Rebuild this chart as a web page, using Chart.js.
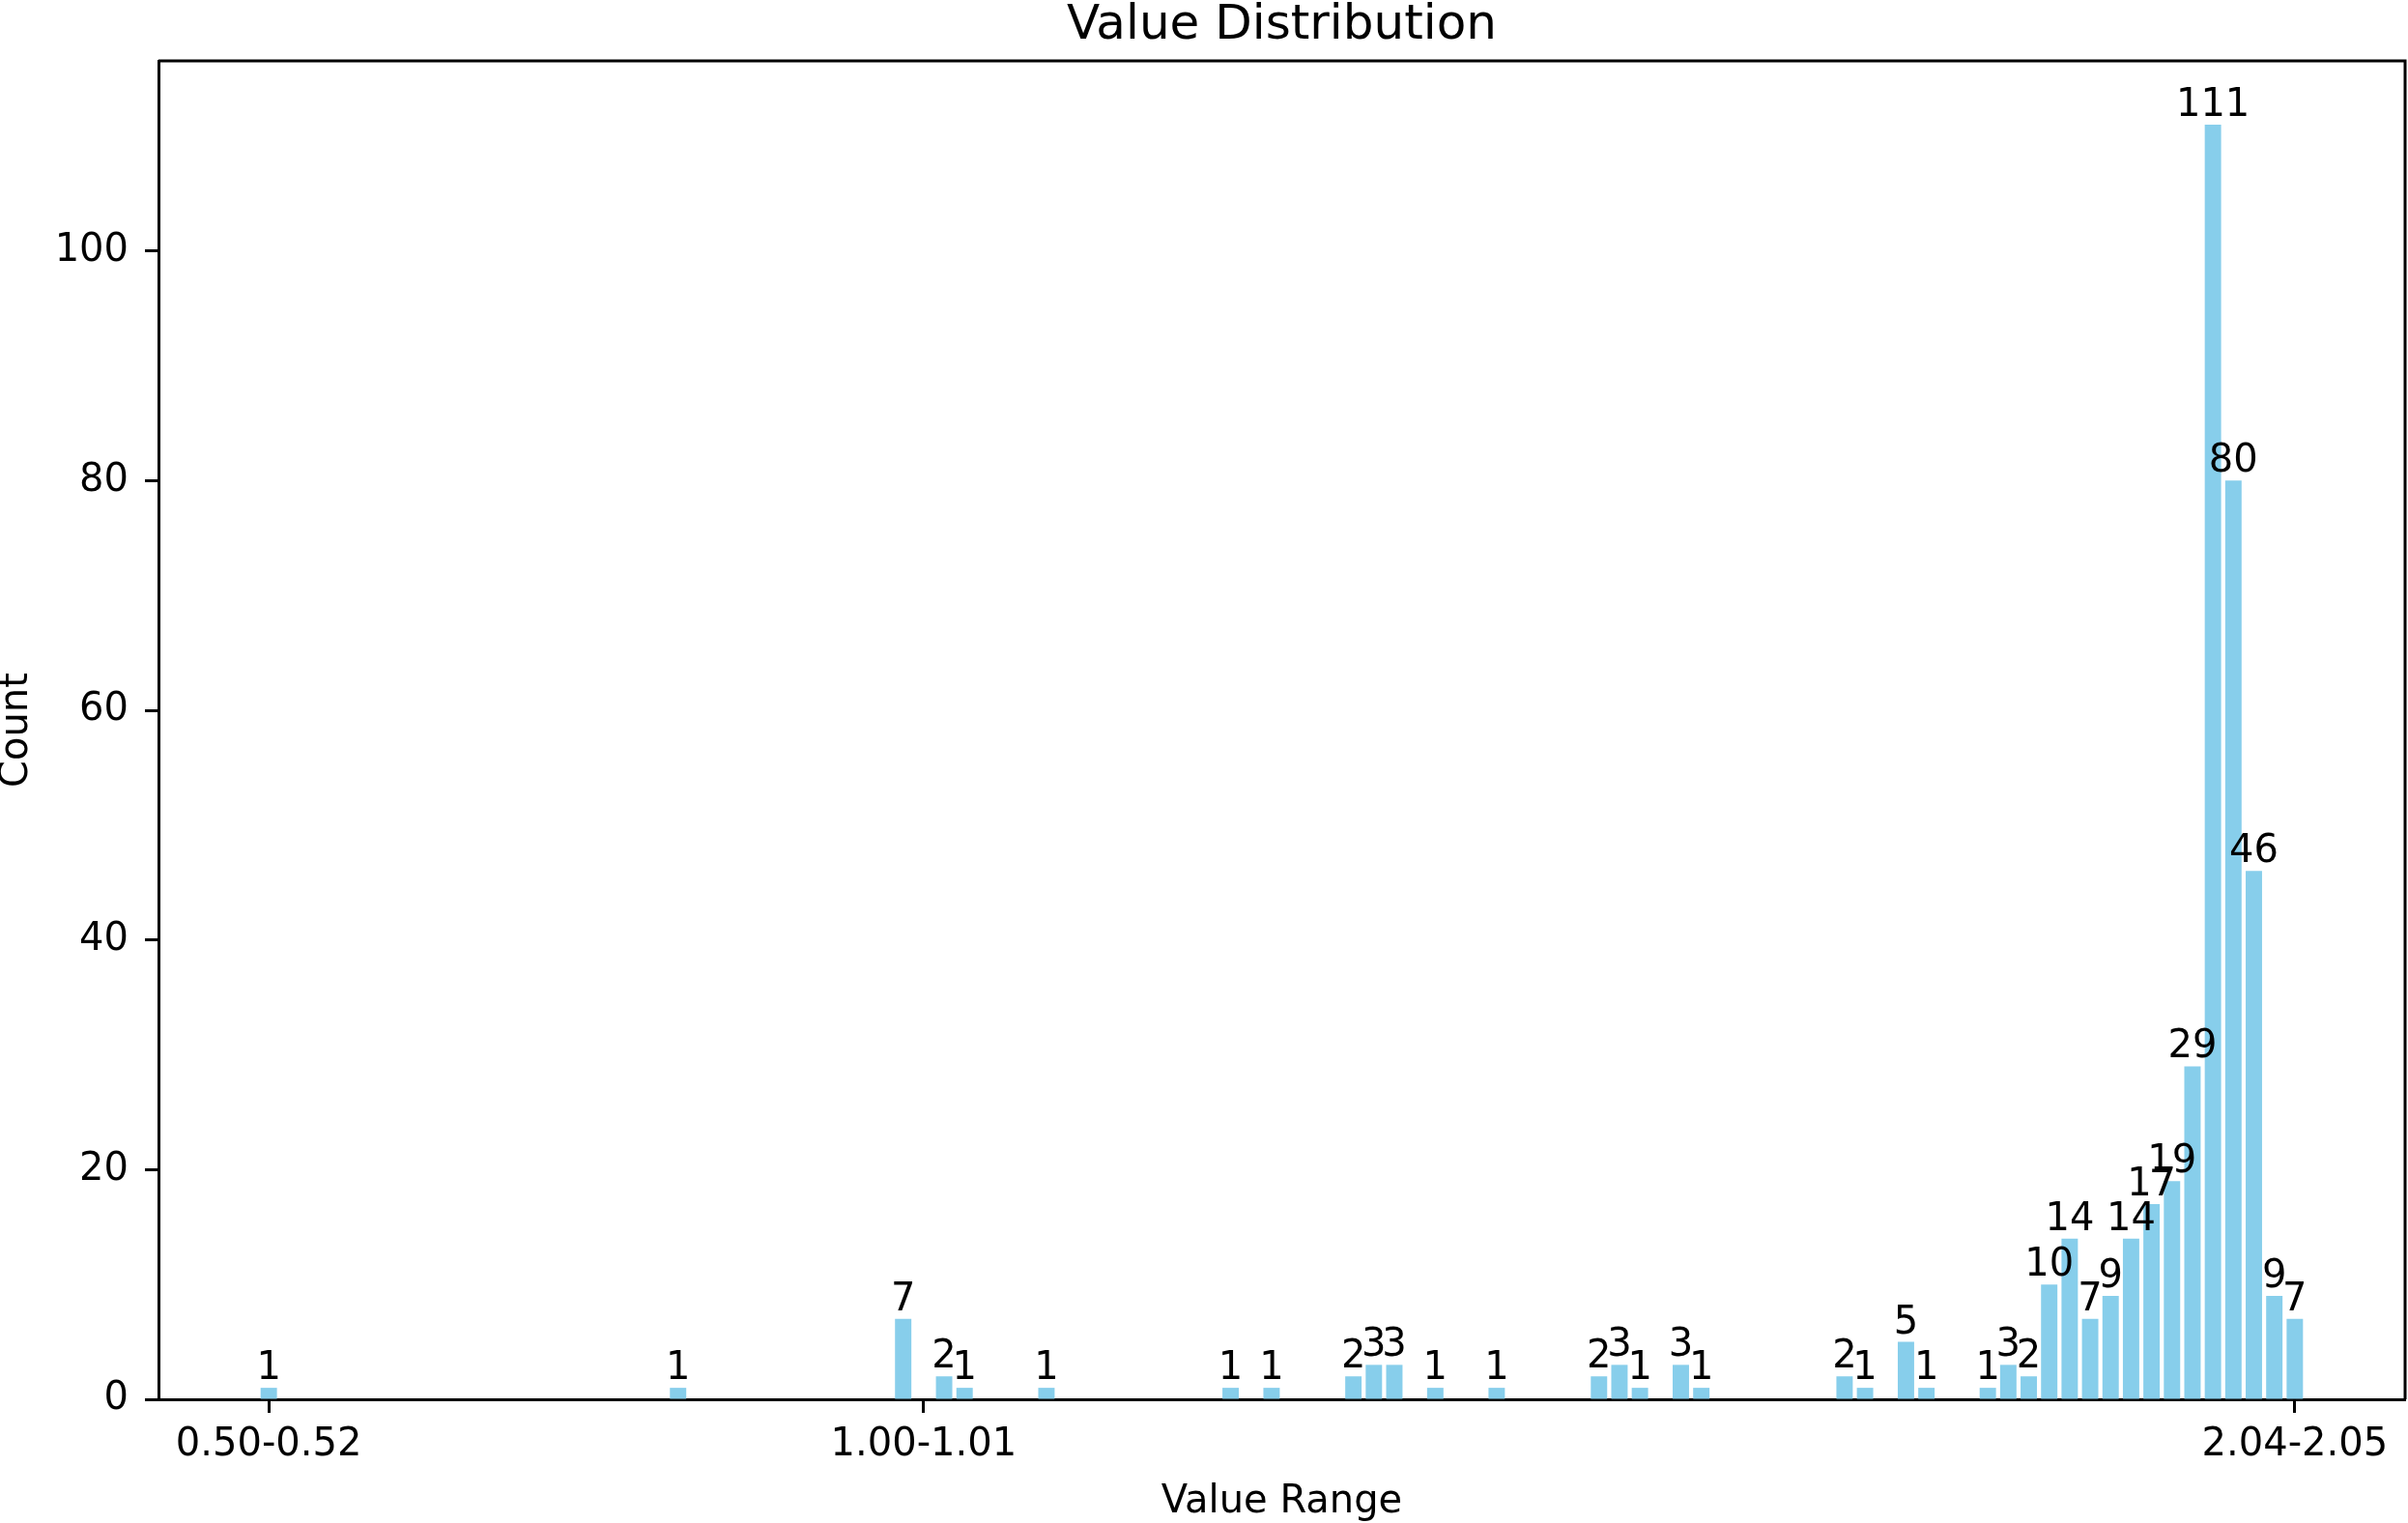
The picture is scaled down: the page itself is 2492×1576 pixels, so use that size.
<!DOCTYPE html>
<html>
<head>
<meta charset="utf-8">
<script src="https://cdn.jsdelivr.net/npm/chart.js@4/dist/chart.umd.min.js"></script>
<style>
  body { margin: 0; background: #fff; }
  #wrap { width: 2492px; height: 1576px; }
</style>
</head>
<body>
<div id="wrap"><canvas id="chart" width="2492" height="1576"></canvas></div>
<script>
// 100 bins from 0.50 to 2.05, counts per bin (index = bin number)
const binCounts = [
  1, 0, 0, 0, 0, 0, 0, 0, 0, 0,
  0, 0, 0, 0, 0, 0, 0, 0, 0, 0,
  1, 0, 0, 0, 0, 0, 0, 0, 0, 0,
  0, 7, 0, 2, 1, 0, 0, 0, 1, 0,
  0, 0, 0, 0, 0, 0, 0, 1, 0, 1,
  0, 0, 0, 2, 3, 3, 0, 1, 0, 0,
  1, 0, 0, 0, 0, 2, 3, 1, 0, 3,
  1, 0, 0, 0, 0, 0, 0, 2, 1, 0,
  5, 1, 0, 0, 1, 3, 2, 10, 14, 7,
  9, 14, 17, 19, 29, 111, 80, 46, 9, 7
];
const tickIndex = [0, 32, 99];
const tickLabels = ["0.50-0.52", "1.00-1.01", "2.04-2.05"];
const yTicks = [0, 20, 40, 60, 80, 100];
const chartTitle = "Value Distribution";

const FONT = "'DejaVu Sans', sans-serif";
const barColor = "#87CEEB";

const points = binCounts
  .map((c, i) => ({ x: i, y: c }))
  .filter(p => p.y > 0);

const barLabels = {
  id: "barLabels",
  afterDatasetsDraw(chart) {
    const ctx = chart.ctx;
    const meta = chart.getDatasetMeta(0);
    ctx.save();
    ctx.font = "40px " + FONT;
    ctx.fillStyle = "#000";
    ctx.textAlign = "center";
    ctx.textBaseline = "alphabetic";
    meta.data.forEach((el, i) => {
      ctx.fillText(String(points[i].y), el.x, el.y - 9);
    });
    ctx.restore();
  }
};

// top/right spines and a title centred over the axes
const frame = {
  id: "frame",
  afterDraw(chart) {
    const a = chart.chartArea;
    const ctx = chart.ctx;
    ctx.save();
    ctx.strokeStyle = "#000";
    ctx.lineWidth = 3;
    ctx.beginPath();
    ctx.moveTo(a.left, a.top);
    ctx.lineTo(a.right, a.top);
    ctx.lineTo(a.right, a.bottom);
    ctx.stroke();

    ctx.fillStyle = "#000";
    ctx.font = "50px " + FONT;
    ctx.textAlign = "center";
    ctx.textBaseline = "alphabetic";
    ctx.fillText(chartTitle, (a.left + a.right) / 2, a.top - 23);
    ctx.restore();
  }
};

new Chart(document.getElementById("chart"), {
  type: "bar",
  data: {
    datasets: [{
      data: points,
      backgroundColor: barColor,
      borderWidth: 0,
      barPercentage: 0.8,
      categoryPercentage: 1.0
    }]
  },
  options: {
    responsive: false,
    animation: false,
    layout: { padding: { top: 63, right: 3, bottom: 0, left: 0 } },
    plugins: {
      legend: { display: false },
      tooltip: { enabled: false },
      title: { display: false }
    },
    scales: {
      x: {
        type: "linear",
        min: -5.39,
        max: 104.39,
        offset: false,
        afterBuildTicks(scale) {
          scale.ticks = tickIndex.map(v => ({ value: v }));
        },
        afterFit(scale) { scale.height = 128; },
        ticks: {
          autoSkip: false,
          maxRotation: 0,
          color: "#000",
          padding: 10,
          font: { family: FONT, size: 40 },
          callback: v => tickLabels[tickIndex.indexOf(v)]
        },
        grid: {
          offset: false,
          drawOnChartArea: false,
          drawTicks: true,
          tickLength: 14,
          tickWidth: 3,
          color: "#000"
        },
        border: { display: true, color: "#000", width: 3 },
        title: {
          display: true,
          text: "Value Range",
          color: "#000",
          font: { family: FONT, size: 40, lineHeight: 1.0 },
          padding: { top: 0, bottom: 1 }
        }
      },
      y: {
        min: 0,
        max: 116.55,
        afterBuildTicks(scale) {
          scale.ticks = yTicks.map(v => ({ value: v }));
        },
        afterFit(scale) { scale.width = 164; },
        ticks: {
          color: "#000",
          padding: 17,
          font: { family: FONT, size: 40 }
        },
        grid: {
          drawOnChartArea: false,
          drawTicks: true,
          tickLength: 14,
          tickWidth: 3,
          color: "#000"
        },
        border: { display: true, color: "#000", width: 3 },
        title: {
          display: true,
          text: "Count",
          color: "#000",
          font: { family: FONT, size: 40, lineHeight: 0.9 },
          padding: { top: 0, bottom: 0 }
        }
      }
    }
  },
  plugins: [barLabels, frame]
});
</script>
</body>
</html>
